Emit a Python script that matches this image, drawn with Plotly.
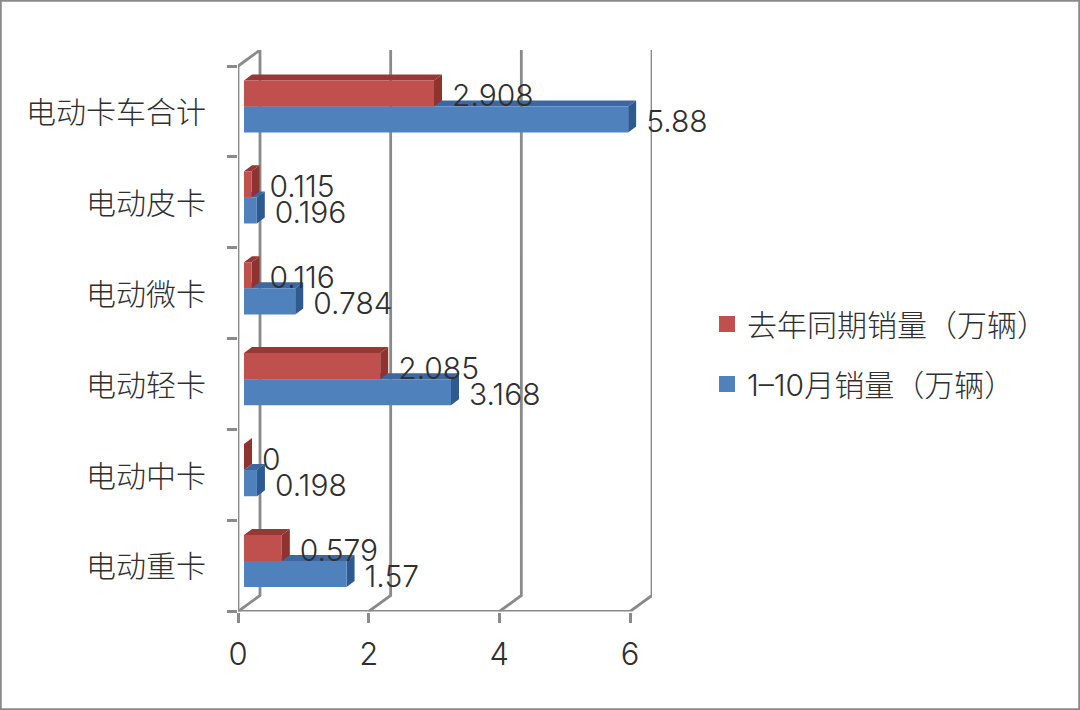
import plotly.graph_objects as go

# ---- data ----
categories = ["电动重卡", "电动中卡", "电动轻卡", "电动微卡", "电动皮卡", "电动卡车合计"]
series_current_name = "1–10月销量（万辆）"
series_current = [1.57, 0.198, 3.168, 0.784, 0.196, 5.88]
series_prior_name = "去年同期销量（万辆）"
series_prior = [0.579, 0, 2.085, 0.116, 0.115, 2.908]
x_ticks = [0, 2, 4, 6]

# ---- geometry of the fake 3D box, in axis units ----
PX_X = (630 - 238) / 6.0      # pixels per value unit
PX_Y = (611.5 - 68) / 6.0     # pixels per category
WALL_DX, WALL_DY = 22 / PX_X, 16 / PX_Y
BAR_X0 = 6 / PX_X
BAR_BASE = 5 / PX_Y
BAR_H = 26 / PX_Y
DEPTH_X, DEPTH_Y = 8 / PX_X, 6 / PX_Y
LABEL_GAP = 10 / PX_X
LABEL_DROP = 5 / PX_Y

GREY = "#8A8A8A"
TEXT = "#2f2f2f"
FONT = "Inter, 'Noto Sans CJK SC', sans-serif"
CJK = "'Noto Sans CJK SC', sans-serif"


def faces(values, y_low):
    """front / top / side polygons of every bar"""
    fx, fy, tx, ty, sx, sy = [], [], [], [], [], []
    for i, v in enumerate(values):
        x0, x1 = BAR_X0, BAR_X0 + v
        y0 = i + 0.5 + BAR_BASE + y_low
        y1 = y0 + BAR_H
        if v > 0:
            fx += [x0, x1, x1, x0, x0, None]
            fy += [y0, y0, y1, y1, y0, None]
            tx += [x0, x1, x1 + DEPTH_X, x0 + DEPTH_X, x0, None]
            ty += [y1, y1, y1 + DEPTH_Y, y1 + DEPTH_Y, y1, None]
        sx += [x1, x1 + DEPTH_X, x1 + DEPTH_X, x1, x1, None]
        sy += [y0, y0 + DEPTH_Y, y1 + DEPTH_Y, y1, y0, None]
    return (fx, fy), (tx, ty), (sx, sy)


def poly(xy, color):
    return go.Scatter(x=xy[0], y=xy[1], mode="lines", fill="toself", fillcolor=color,
                      line=dict(width=0, color=color), showlegend=False, hoverinfo="skip")


fig = go.Figure()

# walls and floor lines
lx, ly = [], []
n = len(categories)
for t in x_ticks:
    lx += [t, t + WALL_DX, t + WALL_DX, None]
    ly += [0, WALL_DY, n + WALL_DY, None]
lx += [0, WALL_DX, None, 0, 0, None, 0, max(x_ticks), None]
ly += [n, n + WALL_DY, None, 0, n, None, 0, 0, None]
fig.add_trace(go.Scatter(x=lx, y=ly, mode="lines", line=dict(color=GREY, width=2.8),
                         showlegend=False, hoverinfo="skip", cliponaxis=False))

# bars: blue first, red in front of it
f, t, s = faces(series_current, -BAR_H)
fig.add_trace(poly(t, "#3C689F"))
fig.add_trace(poly(s, "#2F5A8F"))
fig.add_trace(poly(f, "#4F81BD"))
f, t, s = faces(series_prior, 0)
fig.add_trace(poly(t, "#953836"))
fig.add_trace(poly(s, "#8F3331"))
fig.add_trace(poly(f, "#C0504D"))

# data labels
for values, low in ((series_current, -BAR_H / 2), (series_prior, BAR_H / 2)):
    fig.add_trace(go.Scatter(
        x=[BAR_X0 + v + DEPTH_X + LABEL_GAP for v in values],
        y=[i + 0.5 + BAR_BASE + low - LABEL_DROP for i in range(n)],
        text=[str(v) for v in values], mode="text", textposition="middle right",
        textfont=dict(family=FONT, size=30, color=TEXT, weight=300),
        showlegend=False, hoverinfo="skip", cliponaxis=False))

# legend entries
for name, color in ((series_prior_name, "#C0504D"), (series_current_name, "#4F81BD")):
    fig.add_trace(go.Scatter(x=[None], y=[None], mode="markers", name=name, legendgroup=name,
                             marker=dict(symbol="square", size=16, color=color)))

fig.update_layout(
    width=1080, height=710, autosize=False,
    margin=dict(l=0, r=0, t=0, b=0, autoexpand=False),
    paper_bgcolor="white", plot_bgcolor="white",
    font=dict(family=FONT, color=TEXT),
    xaxis=dict(domain=[238 / 1080, 652 / 1080], range=[0, max(x_ticks) + WALL_DX],
               tickvals=x_ticks, ticks="outside", ticklen=10, tickwidth=2.8, tickcolor=GREY,
               showgrid=False, zeroline=False, showline=False,
               tickfont=dict(family=FONT, size=31, color=TEXT, weight=300), ticklabelstandoff=5),
    yaxis=dict(domain=[(710 - 611.5) / 710, (710 - 50) / 710], range=[0, n + WALL_DY],
               tickvals=[i + 0.49 for i in range(n)], ticktext=categories, ticks="",
               minor=dict(tickvals=list(range(n + 1)), ticks="outside", ticklen=10,
                          tickwidth=2.8, tickcolor=GREY),
               showgrid=False, zeroline=False, showline=False, ticklabelstandoff=31,
               tickfont=dict(family=CJK, size=30, color=TEXT, weight=300)),
    legend=dict(x=707 / 1080, xanchor="left", y=(710 - 298) / 710, yanchor="top",
                font=dict(family=FONT, size=30, color=TEXT, weight=300),
                traceorder="grouped", tracegroupgap=18, itemsizing="trace",
                bgcolor="rgba(0,0,0,0)"),
    shapes=[dict(type="rect", xref="paper", yref="paper", x0=0, x1=1, y0=0, y1=1,
                 line=dict(color="#8A8A8A", width=3.5), layer="above")],
)

fig.write_html(
    "out.html",
    config={"displayModeBar": False},
    post_script="document.body.style.margin='0';",
)
